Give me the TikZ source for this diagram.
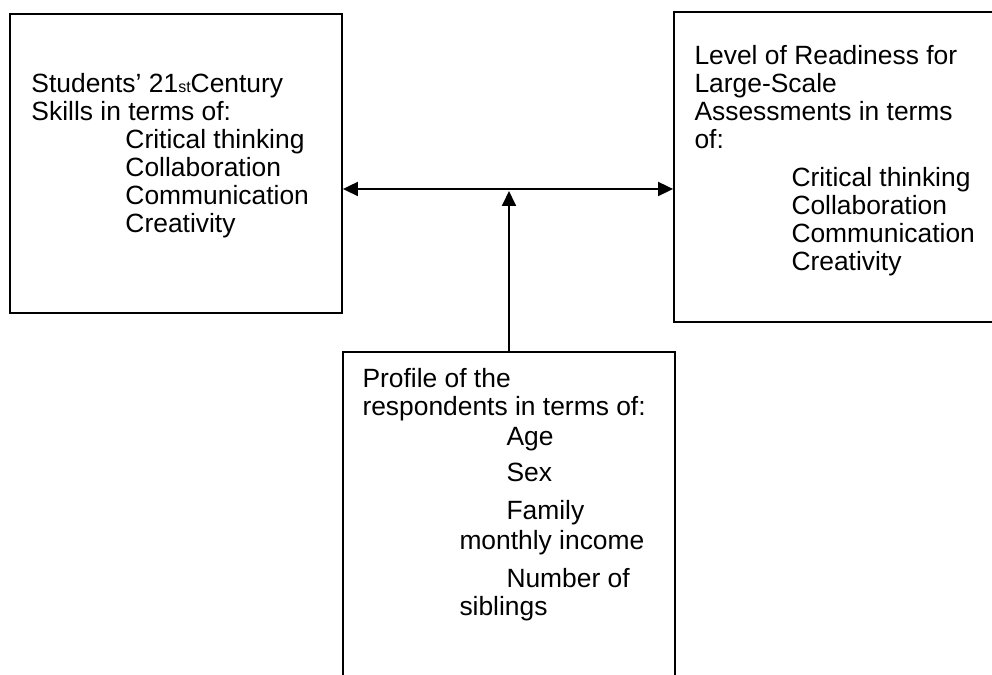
\documentclass[tikz,border=0pt]{standalone}
\usepackage{fontspec}
\setmainfont{Liberation Sans}
\usetikzlibrary{arrows.meta}

\begin{document}
\begin{tikzpicture}[x = 0.5pt, y = 0.5pt,
    frame/.style = {rectangle, draw, line width = 0.9pt, inner sep = 0pt},
    lbl/.style = {anchor = north west, inner sep = 0pt, align = left,
      font = \fontsize{13.2}{14}\selectfont},
    link/.style = {line width = 0.9pt, -{Triangle[length = 7.5pt, width = 7pt]}},
    biarrow/.style = {line width = 0.9pt,
      {Triangle[length = 7.5pt, width = 7pt]}-{Triangle[length = 7.5pt, width = 7pt]}}]
  \useasboundingbox (0,0) rectangle (992,675);

  \node[frame, minimum width = 166pt, minimum height = 149.5pt] (skills) at (176,511.5) {};
  \node[frame, minimum width = 159.5pt, minimum height = 155pt] (ready) at (833.5,508) {};
  \node[frame, minimum width = 166pt, minimum height = 166.5pt] (profile) at (509,156.5) {};

  \node[lbl] (skillstext) at ([shift = {(22,-60)}]skills.north west) {
    Students' 21{\fontsize{8}{8}\selectfont st}Century\\
    Skills in terms of:\\
    \hspace*{47pt}Critical thinking\\
    \hspace*{47pt}Collaboration\\
    \hspace*{47pt}Communication\\
    \hspace*{47pt}Creativity
  };
  \node[lbl] (readytext) at ([shift = {(21,-34)}]ready.north west) {
    Level of Readiness for\\
    Large-Scale\\
    Assessments in terms\\
    of:\\[5pt]
    \hspace*{48.5pt}Critical thinking\\
    \hspace*{48.5pt}Collaboration\\
    \hspace*{48.5pt}Communication\\
    \hspace*{48.5pt}Creativity
  };
  \node[lbl] (profiletext) at ([shift = {(20,-17)}]profile.north west) {
    Profile of the\\
    respondents in terms of:\\[1pt]
    \hspace*{72pt}Age\\[4pt]
    \hspace*{72pt}Sex\\[5pt]
    \hspace*{72pt}Family\\[1pt]
    \hspace*{48.5pt}monthly income\\[5pt]
    \hspace*{72pt}Number of\\
    \hspace*{48.5pt}siblings
  };

  % arrows between the boxes
  \coordinate (hub) at (509,486);
  \draw[biarrow] (hub -| skills.east) -- (hub -| ready.west);
  \draw[link, shorten > = 1pt] (profile.north) -- (hub);
\end{tikzpicture}
\end{document}
